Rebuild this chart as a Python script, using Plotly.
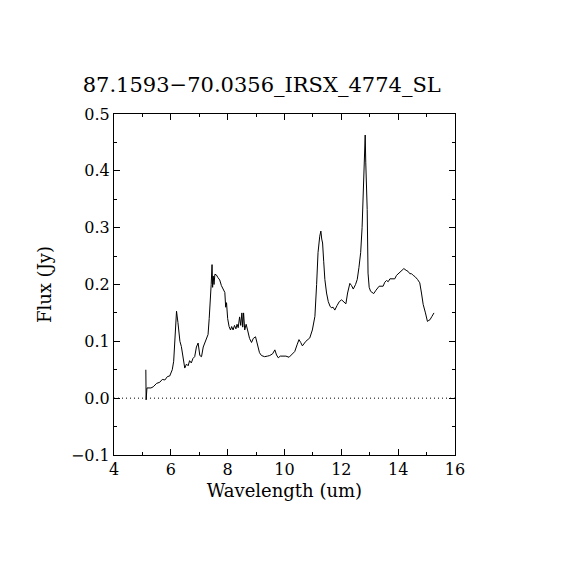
import plotly.graph_objects as go

# IRS SL spectrum
wavelength = [5.12, 5.13, 5.16, 5.30, 5.38, 5.50, 5.61, 5.70, 5.79, 5.88, 5.96, 6.05, 6.10, 6.15,
              6.20, 6.25, 6.32, 6.37, 6.45, 6.49, 6.55, 6.61, 6.66, 6.72, 6.78, 6.84, 6.90, 6.96,
              7.02, 7.08, 7.14, 7.19, 7.25, 7.31, 7.35, 7.38, 7.42, 7.45, 7.47, 7.49, 7.52, 7.55,
              7.60, 7.66, 7.72, 7.78, 7.84, 7.90, 7.93, 7.96, 8.00, 8.05, 8.10, 8.14, 8.19, 8.24,
              8.29, 8.33, 8.37, 8.42, 8.46, 8.50, 8.53, 8.56, 8.60, 8.65, 8.70, 8.77, 8.84, 8.90,
              8.98, 9.05, 9.12, 9.19, 9.30, 9.40, 9.48, 9.58, 9.66, 9.72, 9.78, 9.85, 9.95, 10.05,
              10.16, 10.25, 10.36, 10.45, 10.51, 10.57, 10.63, 10.75, 10.89, 10.98, 11.07, 11.13,
              11.18, 11.24, 11.28, 11.31, 11.34, 11.38, 11.42, 11.48, 11.54, 11.60, 11.65, 11.71,
              11.77, 11.85, 11.93, 12.01, 12.09, 12.16, 12.22, 12.30, 12.36, 12.42, 12.50, 12.56,
              12.62, 12.68, 12.73, 12.77, 12.80, 12.84, 12.86, 12.89, 12.91, 12.94, 12.98, 13.03,
              13.09, 13.14, 13.22, 13.33, 13.47, 13.53, 13.59, 13.65, 13.71, 13.80, 13.88, 13.94,
              14.00, 14.10, 14.20, 14.28, 14.35, 14.41, 14.47, 14.53, 14.59, 14.68, 14.76, 14.82,
              14.88, 14.96, 15.03, 15.08, 15.12, 15.19, 15.26]
flux = [0.050, -0.003, 0.018, 0.018, 0.020, 0.026, 0.028, 0.033, 0.032, 0.038, 0.039, 0.050, 0.065, 0.120,
        0.153, 0.133, 0.100, 0.091, 0.065, 0.053, 0.060, 0.057, 0.066, 0.062, 0.070, 0.073, 0.090, 0.097,
        0.075, 0.073, 0.090, 0.097, 0.105, 0.112, 0.140, 0.160, 0.200, 0.235, 0.195, 0.215, 0.200, 0.218,
        0.217, 0.212, 0.208, 0.198, 0.192, 0.186, 0.160, 0.168, 0.140, 0.126, 0.120, 0.126, 0.120, 0.128,
        0.122, 0.130, 0.124, 0.143, 0.128, 0.150, 0.125, 0.150, 0.120, 0.130, 0.120, 0.105, 0.098, 0.105,
        0.108, 0.092, 0.080, 0.075, 0.073, 0.074, 0.075, 0.078, 0.085, 0.076, 0.071, 0.074, 0.074, 0.074,
        0.072, 0.077, 0.082, 0.095, 0.103, 0.098, 0.092, 0.100, 0.106, 0.120, 0.144, 0.200,
        0.256, 0.285, 0.294, 0.280, 0.273, 0.240, 0.209, 0.185, 0.170, 0.162, 0.159, 0.160,
        0.155, 0.163, 0.170, 0.173, 0.170, 0.166, 0.185, 0.202, 0.198, 0.192, 0.200, 0.209,
        0.230, 0.256, 0.300, 0.356, 0.420, 0.463, 0.414, 0.380, 0.332, 0.220, 0.195, 0.188,
        0.186, 0.184, 0.190, 0.197, 0.197, 0.204, 0.207, 0.205, 0.210, 0.210, 0.210, 0.216,
        0.219, 0.224, 0.228, 0.225, 0.223, 0.219, 0.219, 0.216, 0.214, 0.209, 0.203, 0.185,
        0.165, 0.150, 0.135, 0.137, 0.138, 0.144, 0.150]

title_text = "87.1593\u221270.0356_IRSX_4774_SL"
font_family = "DejaVu Serif"

fig = go.Figure()
fig.add_trace(go.Scatter(x=wavelength, y=flux, mode="lines",
                         line=dict(color="black", width=1), showlegend=False))

# dotted zero level
fig.add_hline(y=0, line=dict(color="black", width=1, dash="1px,3px"))

axis_common = dict(
    showgrid=False, zeroline=False, showline=True, linecolor="black", linewidth=1,
    mirror="ticks", ticks="inside", ticklen=6, tickcolor="black", tickwidth=1,
    tickfont=dict(family=font_family, size=16, color="black"),
)

fig.update_xaxes(range=[4, 16], tick0=4, dtick=2,
                 minor=dict(dtick=1, ticks="inside", ticklen=3, tickcolor="black"),
                 title=dict(text="Wavelength (um)", font=dict(family=font_family, size=18, color="black"),
                            standoff=6),
                 **axis_common)
fig.update_yaxes(range=[-0.1, 0.5], tick0=-0.1, dtick=0.1, tickformat=".1f",
                 minor=dict(dtick=0.05, ticks="inside", ticklen=3, tickcolor="black"),
                 title=dict(text="Flux (Jy)", font=dict(family=font_family, size=18, color="black"),
                            standoff=14),
                 **axis_common)

# page body adds an 8px margin, so the figure is 554 wide and the plot box sits at 114..455
fig.update_layout(
    width=554, height=554,
    margin=dict(l=106, r=107, t=106, b=107),
    paper_bgcolor="white", plot_bgcolor="white",
    title=dict(text=title_text, x=0.458, xanchor="center", y=0.862, yanchor="middle",
               font=dict(family=font_family, size=21, color="black")),
)

fig.write_html("out.html")
